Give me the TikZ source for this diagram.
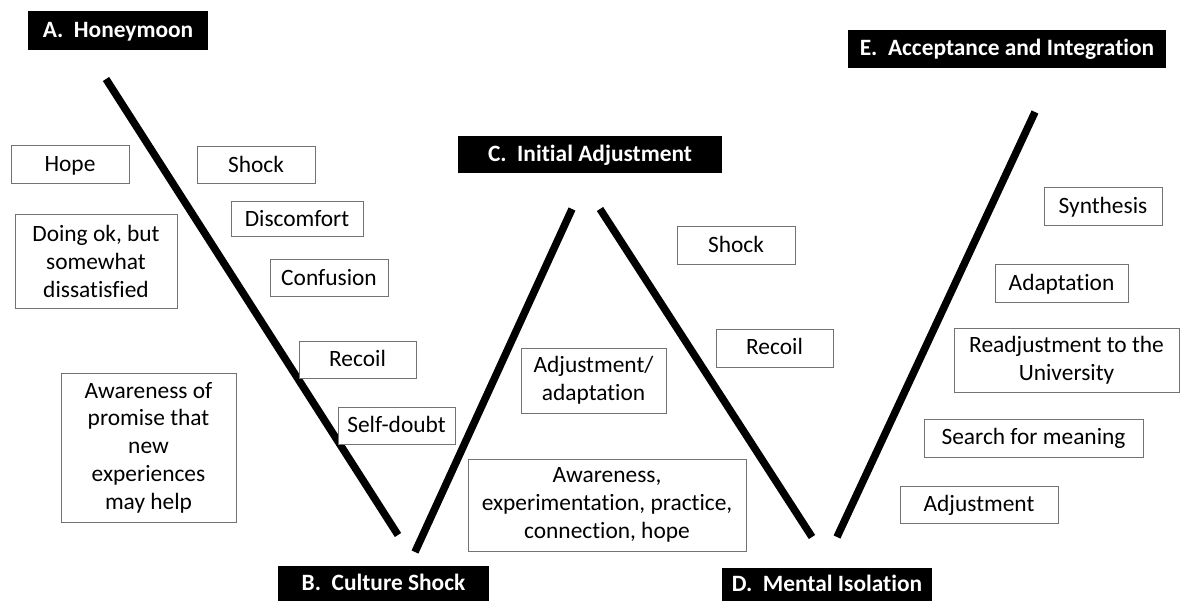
\documentclass[tikz,border=0pt]{standalone}
\usepackage{fontspec}
\setmainfont{Carlito}[Ligatures={NoCommon}]
\begin{document}
\begin{tikzpicture}[x=1pt,y=-1pt,
  box/.style={draw=black!55, line width=1pt, fill=white, inner sep=0pt, align=center,
    font=\fontsize{23.4}{27.7}\selectfont},
  one/.style={text height=16.5pt, text depth=3pt},
  title/.style={fill=black, text=white, inner sep=0pt, align=center,
    text height=16.5pt, text depth=3pt,
    font=\fontsize{23.4}{27.7}\selectfont\bfseries},
  curve/.style={line width=7.5pt, line cap=butt, black}]
\useasboundingbox[fill=white] (0,0) rectangle (1182,601);
% thick W lines
\coordinate (l1a) at (106,79);  \coordinate (l1b) at (398,535);
\coordinate (l2a) at (415,552); \coordinate (l2b) at (572,209);
\coordinate (l3a) at (600,209); \coordinate (l3b) at (812,537);
\coordinate (l4a) at (837,537); \coordinate (l4b) at (1035,112);
\draw[curve] (l1a) -- (l1b);
\draw[curve] (l2a) -- (l2b);
\draw[curve] (l3a) -- (l3b);
\draw[curve] (l4a) -- (l4b);
% titles
\node[title, minimum width=180, minimum height=39] (A) at (118,30.5) {A.\ \ Honeymoon};
\node[title, minimum width=211, minimum height=35] (B) at (383.5,583.5) {B.\ \ Culture Shock};
\node[title, minimum width=264, minimum height=37] (C) at (590,154.5) {C.\ \ Initial Adjustment};
\node[title, minimum width=210, minimum height=33] (D) at (827,584.5) {D.\ \ Mental Isolation};
\node[title, minimum width=318, minimum height=38] (E) at (1007,49) {E.\ \ Acceptance and Integration};
% boxes
\node[box, one, minimum width=118, minimum height=38] (hope) at (70,165) {Hope};
\node[box, one, minimum width=118, minimum height=37] (shock1) at (256,165.5) {Shock};
\node[box, one, minimum width=132, minimum height=35] (discomfort) at (297,219.5) {Discomfort};
\node[box, minimum width=162, minimum height=93] (doing) at (96,261.5) {Doing ok, but\\somewhat\\dissatisfied};
\node[box, one, minimum width=118, minimum height=37] (confusion) at (329,278.5) {Confusion};
\node[box, one, minimum width=117, minimum height=37] (recoil1) at (357.5,359.5) {Recoil};
\node[box, one, minimum width=117, minimum height=37] (selfdoubt) at (396.5,425.5) {Self-doubt};
\node[box, minimum width=175, minimum height=149] (promise) at (148.5,447.5) {Awareness of\\promise that\\new\\experiences\\may help};
\node[box, one, minimum width=118, minimum height=38] (shock2) at (736,246) {Shock};
\node[box, one, minimum width=117, minimum height=38] (recoil2) at (774.5,348) {Recoil};
\node[box, minimum width=145, minimum height=65] (adjad) at (593.5,380.5) {Adjustment/\\adaptation};
\node[box, minimum width=278, minimum height=92] (aware) at (607,505) {Awareness,\\experimentation, practice,\\connection, hope};
\node[box, one, minimum width=118, minimum height=38] (synth) at (1103,207) {Synthesis};
\node[box, one, minimum width=133, minimum height=38] (adapt) at (1061.5,284) {Adaptation};
\node[box, minimum width=225, minimum height=64] (readj) at (1066.5,360) {Readjustment to the\\University};
\node[box, one, minimum width=219, minimum height=38] (search) at (1033.5,438) {Search for meaning};
\node[box, one, minimum width=158, minimum height=37] (adjust) at (979,504.5) {Adjustment};
\end{tikzpicture}
\end{document}
